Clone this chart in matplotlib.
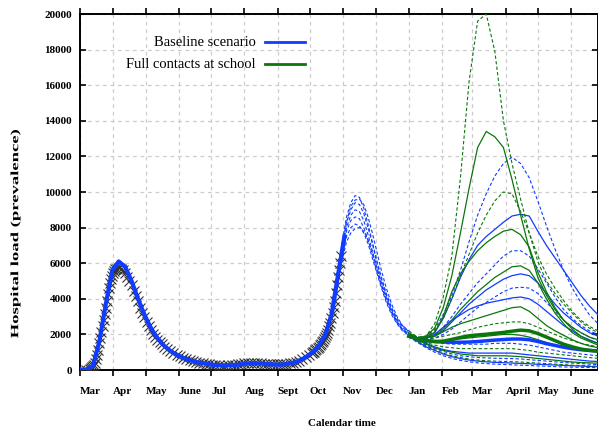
import matplotlib
matplotlib.use("Agg")
import matplotlib.pyplot as plt
from matplotlib.lines import Line2D
from matplotlib.font_manager import FontProperties
from matplotlib.textpath import TextPath
from matplotlib.patches import PathPatch
from matplotlib.transforms import Affine2D

plt.rcParams['font.family'] = ['Liberation Serif', 'DejaVu Serif']

# days counted from 1 March 2020
month_days = [0, 31, 61, 92, 122, 153, 184, 214, 245, 275, 306, 337, 365, 396, 426, 457]
month_labels = ['Mar', 'Apr', 'May', 'June', 'Jul', 'Aug', 'Sept', 'Oct', 'Nov', 'Dec',
                'Jan', 'Feb', 'Mar', 'April', 'May', 'June']
y_ticks = [0, 2000, 4000, 6000, 8000, 10000, 12000, 14000, 16000, 18000, 20000]

# observed hospital load (black crosses)
obs_days = ([0, 3, 6, 9] + list(range(10, 34)) + list(range(34, 79, 2))
            + list(range(81, 217, 3)) + list(range(217, 244)))
obs_load = [0, 5, 20, 80,
            120, 160, 220, 300, 420, 600, 850, 1150, 1500, 1800, 2120, 2450, 2800, 3150,
            3500, 3900, 4250, 4600, 4900, 5120, 5300, 5450, 5570, 5650,
            5700, 5750, 5700, 5600, 5450, 5250, 5020, 4750, 4450, 4150, 3850, 3500, 3200,
            2950, 2700, 2480, 2250, 2050, 1870, 1700, 1560, 1440, 1320,
            1170, 1040, 930, 840, 760, 690, 620, 560, 500, 450, 410, 380, 350, 320, 300,
            280, 260, 250, 250, 260, 270, 290, 320, 350, 380, 400, 410, 400, 390, 370, 350,
            340, 330, 320, 310, 310, 320, 340, 370, 410, 460, 530, 620, 720, 830, 950,
            990, 1030, 1100, 1160, 1230, 1300, 1380, 1460, 1550, 1650, 1750, 1850, 1980,
            2100, 2250, 2450, 2650, 2900, 3200, 3550, 3900, 4300, 4750, 5200, 5600, 6000, 6400]

# baseline model fit (thick blue)
fit_days = list(range(0, 247, 6))
fit_load = [0, 20, 230, 1600, 3700, 5600, 6100, 5800, 5000, 4000, 3100, 2350, 1800, 1380,
            1080, 850, 680, 550, 450, 380, 320, 280, 260, 260, 280, 320, 370, 380, 360,
            330, 310, 300, 330, 400, 520, 720, 980, 1350, 1950, 3100, 5300, 7500]

# second wave ensemble (thin dashed blue)
w2_days = [236, 240, 244, 248, 252, 256, 260, 264, 268, 272, 276, 280, 285, 290, 295, 300, 306]
w2_runs = [
    [3600, 5400, 7200, 8600, 9400, 9800, 9700, 9100, 8200, 7200, 6200, 5300, 4300, 3500, 2900, 2500, 2200],
    [3500, 5200, 7000, 8300, 9000, 9400, 9300, 8800, 8000, 7100, 6100, 5200, 4200, 3400, 2800, 2400, 2100],
    [3500, 5100, 6800, 8000, 8700, 9000, 8900, 8400, 7600, 6700, 5800, 4900, 4000, 3300, 2700, 2300, 2050],
    [3400, 5000, 6600, 7800, 8400, 8600, 8500, 8000, 7300, 6500, 5600, 4800, 3900, 3200, 2650, 2250, 2000],
    [3400, 4900, 6400, 7500, 8000, 8200, 8100, 7700, 7100, 6300, 5500, 4700, 3800, 3100, 2600, 2200, 1950],
    [3300, 4800, 6200, 7200, 7700, 7950, 8000, 7800, 7300, 6600, 5800, 5000, 4100, 3300, 2700, 2300, 2000],
    [3400, 5100, 6900, 8300, 9200, 9550, 9600, 9300, 8600, 7700, 6700, 5700, 4600, 3700, 3000, 2500, 2150],
]

# 2021 projections
proj_days = [306, 314, 322, 330, 338, 346, 354, 362, 370, 378, 386, 394, 402, 410, 418, 426,
             434, 442, 450, 458, 466, 474, 482]

base_mean = [1900, 1750, 1650, 1600, 1570, 1560, 1560, 1570, 1600, 1640, 1680, 1710, 1740,
             1740, 1700, 1600, 1480, 1380, 1280, 1200, 1140, 1100, 1070]
school_mean = [1900, 1750, 1650, 1600, 1620, 1720, 1830, 1920, 1970, 2010, 2060, 2110, 2180,
               2240, 2200, 2050, 1850, 1650, 1450, 1300, 1180, 1100, 1050]

base_solid = [
    [2000, 1800, 1850, 2100, 2900, 4000, 5200, 6200, 7000, 7500, 7900, 8300, 8650, 8750, 8650, 7800, 7000, 6300, 5600, 4900, 4200, 3600, 3100],
    [2000, 1800, 1800, 1900, 2200, 2700, 3200, 3700, 4100, 4500, 4800, 5100, 5300, 5400, 5300, 4900, 4300, 3700, 3200, 2800, 2400, 2100, 1900],
    [2000, 1800, 1800, 2000, 2400, 2800, 3100, 3400, 3600, 3750, 3850, 3950, 4050, 4100, 4000, 3700, 3300, 2900, 2500, 2200, 1900, 1700, 1500],
    [2000, 1750, 1500, 1300, 1150, 1050, 1000, 950, 950, 950, 950, 950, 950, 900, 850, 800, 750, 700, 650, 600, 550, 500, 480],
    [1900, 1600, 1300, 1100, 900, 750, 640, 560, 500, 460, 430, 410, 390, 370, 350, 320, 300, 280, 260, 240, 220, 200, 190],
]
base_dashed = [
    [2000, 1800, 1900, 2300, 3100, 4200, 5600, 7200, 8700, 9900, 10900, 11600, 11950, 11600, 10800, 9500, 8100, 6800, 5600, 4600, 3800, 3100, 2600],
    [2000, 1800, 1800, 1950, 2400, 3000, 3700, 4300, 4900, 5400, 5900, 6400, 6700, 6700, 6400, 5700, 4900, 4100, 3400, 2900, 2500, 2200, 2000],
    [2000, 1800, 1750, 1800, 2000, 2300, 2700, 3100, 3500, 3800, 4100, 4400, 4600, 4650, 4600, 4300, 3800, 3300, 2800, 2400, 2100, 1850, 1650],
    [2000, 1800, 1650, 1550, 1500, 1450, 1450, 1450, 1450, 1450, 1500, 1500, 1500, 1450, 1400, 1300, 1200, 1100, 1000, 950, 900, 850, 800],
    [1950, 1650, 1400, 1200, 1050, 900, 800, 750, 700, 680, 660, 650, 640, 620, 580, 540, 500, 460, 420, 390, 360, 330, 300],
    [1850, 1550, 1250, 1000, 800, 650, 540, 460, 400, 360, 330, 310, 290, 270, 250, 230, 210, 190, 170, 160, 150, 140, 130],
]
school_solid = [
    [2100, 1800, 1900, 2350, 3500, 5300, 7700, 10200, 12500, 13400, 13100, 12500, 10700, 8700, 6800, 5200, 4200, 3400, 2800, 2400, 2100, 1850, 1700],
    [2000, 1800, 1850, 2100, 3000, 4400, 5400, 6100, 6700, 7150, 7500, 7800, 7900, 7600, 6900, 5500, 4400, 3500, 2800, 2300, 1900, 1650, 1500],
    [2000, 1800, 1800, 1900, 2300, 2800, 3400, 3900, 4400, 4800, 5200, 5500, 5800, 5850, 5600, 4900, 4000, 3200, 2600, 2100, 1800, 1600, 1400],
    [2000, 1800, 1800, 1900, 2150, 2400, 2600, 2750, 2900, 3050, 3200, 3350, 3500, 3550, 3300, 2900, 2500, 2200, 1950, 1700, 1500, 1350, 1250],
    [2000, 1800, 1700, 1650, 1650, 1700, 1750, 1800, 1850, 1900, 1950, 2000, 2000, 1950, 1850, 1700, 1550, 1400, 1300, 1200, 1150, 1100, 1050],
    [1950, 1700, 1450, 1250, 1100, 1000, 900, 850, 800, 800, 800, 800, 780, 750, 700, 650, 600, 550, 500, 450, 420, 400, 380],
]
school_dashed = [
    [2200, 1850, 1900, 2600, 4100, 6400, 10800, 16200, 19600, 20000, 17900, 14000, 11600, 9600, 7700, 6100, 5000, 4300, 3700, 3200, 2700, 2350, 2100],
    [2000, 1800, 1850, 2200, 2900, 4000, 5300, 6500, 7700, 8700, 9500, 10000, 9900, 8900, 7700, 6400, 5400, 4600, 3900, 3300, 2800, 2450, 2200],
    [2000, 1800, 1750, 1800, 1900, 2000, 2100, 2250, 2400, 2500, 2600, 2650, 2700, 2700, 2600, 2400, 2200, 2000, 1800, 1650, 1500, 1400, 1300],
    [2000, 1750, 1550, 1400, 1300, 1250, 1200, 1200, 1200, 1200, 1200, 1200, 1200, 1150, 1100, 1000, 950, 900, 850, 800, 750, 700, 650],
    [1900, 1600, 1350, 1150, 950, 800, 700, 620, 560, 520, 500, 480, 470, 450, 420, 390, 360, 330, 300, 270, 250, 230, 210],
]

blue = '#0f3cff'
green = '#0b760b'
dash = (0, (3, 2))

fig = plt.figure(figsize=(5.98, 4.30), dpi=100)
ax = fig.add_axes([80 / 598, 60 / 430, 518 / 598, 356 / 430])

ax.plot(obs_days, obs_load, linestyle='none', marker='x', markersize=6.5,
        markeredgewidth=0.8, color='#333333', zorder=3)
ax.plot(fit_days, fit_load, color=blue, lw=3, zorder=4)

for run in w2_runs:
    ax.plot(w2_days, run, color=blue, lw=0.8, linestyle=dash, zorder=4)

for run in base_dashed:
    ax.plot(proj_days, run, color=blue, lw=0.8, linestyle=dash, zorder=4)
for run in base_solid:
    ax.plot(proj_days, run, color=blue, lw=0.9, zorder=4)
for run in school_dashed:
    ax.plot(proj_days, run, color=green, lw=0.8, linestyle=dash, zorder=5)
for run in school_solid:
    ax.plot(proj_days, run, color=green, lw=0.9, zorder=5)

ax.plot(proj_days, base_mean, color=blue, lw=2.5, zorder=6)
ax.plot(proj_days, school_mean, color=green, lw=2.5, zorder=6)

ax.set_xlim(0, 482)
ax.set_ylim(0, 20000)
ax.set_xticks(month_days)
ax.set_xticklabels(month_labels, ha='left', fontsize=8, fontweight='bold')
ax.set_yticks(y_ticks)
ax.set_yticklabels([str(v) for v in y_ticks], fontsize=8, fontweight='bold')
ax.tick_params(axis='x', direction='out', length=4, width=1.2, top=True, pad=8)
ax.tick_params(axis='y', direction='in', length=4, width=1.2, right=True, pad=6)
ax.grid(True, color='#cccccc', linestyle=(0, (3, 3)), lw=0.9)
ax.set_axisbelow(True)
for s in ax.spines.values():
    s.set_linewidth(1.4)

ax.set_xlabel('Calendar time', fontsize=8, fontweight='bold')
ax.xaxis.set_label_coords(262 / 518, -49 / 356)

# rotated y label; in the original it is stretched along its length
ylabel = 'Hospital load (prevalence)'
tp = TextPath((0, 0), ylabel, size=8 * 100 / 72,
              prop=FontProperties(family='Liberation Serif', weight='bold'))
ext = tp.get_extents()
stretch = (338 - 130) / ext.width
tr = (Affine2D().translate(-ext.x0, -(ext.y0 + ext.y1) / 2).scale(stretch, 1)
      .rotate_deg(90).translate(15.5, 430 - 338))
fig.add_artist(PathPatch(tp, transform=tr, facecolor='black', edgecolor='none'))

# legend drawn by hand, text on the left of the sample line
for row, (label, col) in enumerate([('Baseline scenario', blue), ('Full contacts at school', green)]):
    yy = 1 - (42 + 22 * row) / 430
    fig.text(256 / 598, yy, label, ha='right', va='center', fontsize=10.5)
    fig.add_artist(Line2D([265 / 598, 305 / 598], [yy, yy], color=col, lw=2,
                          transform=fig.transFigure))

fig.savefig('out.png', dpi=100)
